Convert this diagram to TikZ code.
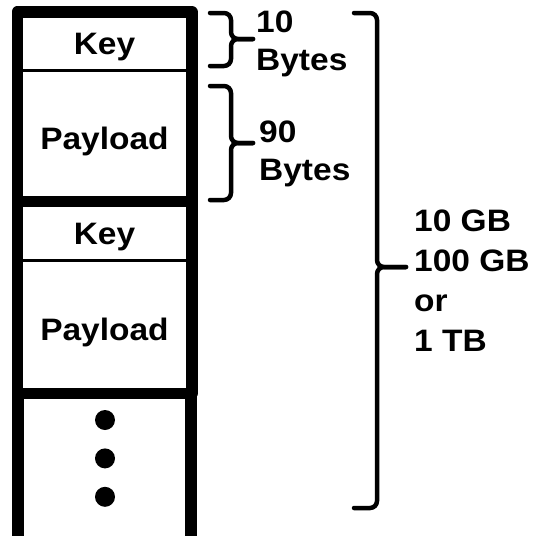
\documentclass[tikz,border=0pt]{standalone}
\usepackage{fontspec}
\setmainfont{Liberation Sans}[FakeStretch=1.08]
\usetikzlibrary{positioning}

\tikzset{
  celda/.style={draw, line width=1.5pt, minimum width=173pt, inner sep=0pt,
    font=\fontsize{31}{36}\selectfont\bfseries, text height=27pt, text depth=0pt},
  borde/.style={line width=11.5pt, line join=round},
  punto/.style={circle, fill, inner sep=0pt, minimum size=20pt},
  llave/.style={line width=4.5pt, rounded corners=7pt, line cap=round},
  etiqueta/.style={align=left, anchor=north west, inner sep=0pt,
    font=\fontsize{31}{38}\selectfont\bfseries}
}

\begin{document}
\begin{tikzpicture}[x=1pt, y=-1pt]
  \useasboundingbox (0,0) rectangle (533,536);

  % Registros
  \node[celda, minimum height=57.5pt] (key1) at (104.5,41.25) {Key};
  \node[celda, minimum height=129pt, below=0pt of key1] (pay1) {Payload};
  \node[celda, minimum height=58pt, below=0pt of pay1] (key2) {Key};
  \node[celda, minimum height=131pt, below=0pt of key2] (pay2) {Payload};
  \node[minimum width=173pt, minimum height=160pt, inner sep=0pt, below=0pt of pay2] (resto) {};

  % Puntos
  \node[punto] (p1) at (105,420) {};
  \node[punto, below=18pt of p1] (p2) {};
  \node[punto, below=18pt of p2] (p3) {};

  % Bordes gruesos
  \draw[borde] (key1.north west) rectangle (pay1.south east);
  \draw[borde] (key2.north west) rectangle (pay2.south east);
  \draw[borde] (resto.south west) -- (resto.north west) -- (resto.north east) -- (resto.south east);

  % Llaves
  \draw[llave] (210,13) -- (231,13) -- (231,39) -- (253,39);
  \draw[llave] (253,39) -- (231,39) -- (231,66) -- (210,66);
  \draw[llave] (210,86) -- (231,86) -- (231,143) -- (253,143);
  \draw[llave] (253,143) -- (231,143) -- (231,200) -- (210,200);
  \draw[llave] (354,13) -- (377,13) -- (377,267) -- (406,267);
  \draw[llave] (406,267) -- (377,267) -- (377,508) -- (354,508);

  % Textos
  \node[etiqueta] (diez) at (256,11) {10\\Bytes};
  \node[etiqueta] (noventa) at (259,121) {90\\Bytes};
  \node[etiqueta, font=\fontsize{31}{40}\selectfont\bfseries] (total) at (414,210) {10 GB\\100 GB\\or\\1 TB};
\end{tikzpicture}
\end{document}
